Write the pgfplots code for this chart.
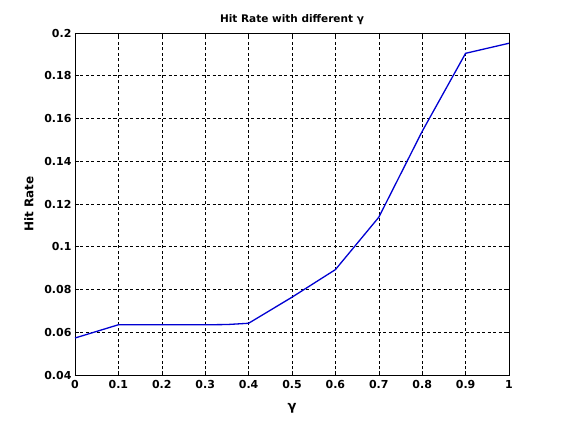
\documentclass[border=0pt]{standalone}
\usepackage{pgfplots}
\pgfplotsset{compat=1.18}
\usepackage{fontspec}
\setmainfont{DejaVu Sans}
\begin{document}
\begin{tikzpicture}
\useasboundingbox (-75pt,-48pt) rectangle (488pt,375pt);
\begin{axis}[
  scale only axis,
  width=434pt, height=342pt,
  anchor=south west, at={(0pt,0pt)},
  xmin=0, xmax=1, ymin=0.04, ymax=0.2,
  xtick={0,0.1,...,1.0},
  ytick={0.04,0.06,...,0.2},
  xticklabels={0,0.1,0.2,0.3,0.4,0.5,0.6,0.7,0.8,0.9,1},
  yticklabels={0.04,0.06,0.08,0.1,0.12,0.14,0.16,0.18,0.2},
  /pgf/number format/assume math mode=true,
  tick label style={font=\fontsize{11}{13}\selectfont\bfseries},
  xticklabel style={yshift=-2pt},
  tick align=inside,
  major tick length=4pt,
  grid=major,
  major grid style={black, line width=0.5pt, dash pattern=on 3pt off 2.5pt},
  axis line style={black, line width=0.6pt},
  every tick/.style={black, line width=0.6pt},
  title={\fontsize{10.5}{12}\selectfont\bfseries Hit Rate with different γ},
  title style={yshift=-1pt},
  xlabel={\fontsize{13}{15}\selectfont\bfseries γ},
  ylabel={\fontsize{12}{14}\selectfont\bfseries Hit Rate},
  xlabel style={yshift=-8pt},
  ylabel style={yshift=4pt},
]
\addplot[color={rgb,255:red,0;green,0;blue,210}, line width=1.3pt, mark=none] coordinates {
(0,0.0573) (0.1,0.0635) (0.2,0.0635) (0.3,0.0635) (0.35,0.0636) (0.4,0.0642)
(0.5,0.0764) (0.6,0.0893) (0.7,0.1138) (0.8,0.154) (0.9,0.1905) (1.0,0.1952)
};
\end{axis}
\end{tikzpicture}
\end{document}
